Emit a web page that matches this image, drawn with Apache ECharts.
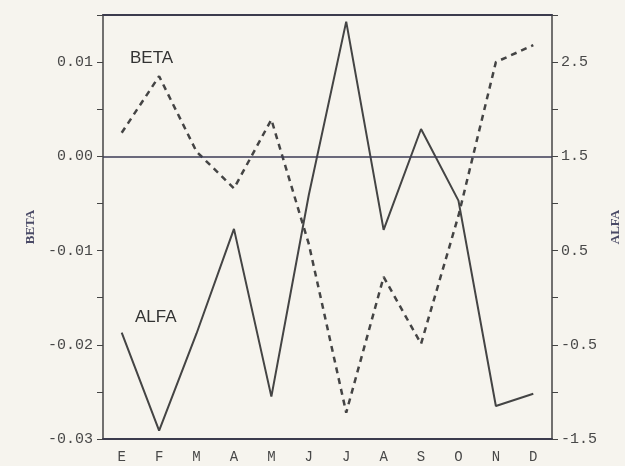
<!DOCTYPE html>
<html>
<head>
<meta charset="utf-8">
<script src="https://cdn.jsdelivr.net/npm/echarts@6/dist/echarts.min.js"></script>
<style>
  html, body { margin: 0; padding: 0; background: #f6f4ee; }
  #chart { width: 625px; height: 466px; }
</style>
</head>
<body>
<div id="chart"></div>
<script>
// months (Spanish initials)
const months = ['E', 'F', 'M', 'A', 'M', 'J', 'J', 'A', 'S', 'O', 'N', 'D'];

// BETA, dashed line, left axis
const beta = [0.0025, 0.0085, 0.0005, -0.0034, 0.0039, -0.0093, -0.0272, -0.0128, -0.0199, -0.0063, 0.0100, 0.0118];

// ALFA, solid line, right axis
const alfa = [-0.37, -1.41, -0.38, 0.73, -1.05, 1.09, 2.93, 0.72, 1.79, 1.03, -1.15, -1.02];

// axis ranges
const betaMin = -0.03, betaMax = 0.015, betaStep = 0.005;
const alfaMin = -1.5, alfaMax = 3.0, alfaStep = 0.5;

const ink = '#444';
const labelFont = {
    color: '#484848',
    fontFamily: 'Liberation Mono',
    fontSize: 15
};
const nameFont = {
    color: '#4a4a66',
    fontFamily: 'Liberation Serif',
    fontSize: 13,
    fontWeight: 'bold'
};

const chart = echarts.init(document.getElementById('chart'));

const option = {
    backgroundColor: '#f6f4ee',
    animation: false,
    grid: {
        left: 103,
        right: 73,
        top: 15,
        bottom: 27,
        containLabel: false,
        outerBoundsMode: 'none'
    },
    xAxis: [
        {
            type: 'category',
            data: months,
            boundaryGap: true,
            axisLine: { onZero: false, lineStyle: { color: '#3b3b4d', width: 2 } },
            axisTick: { alignWithLabel: true, length: 4, lineStyle: { color: ink } },
            axisLabel: Object.assign({}, labelFont, { fontSize: 14, margin: 11 })
        },
        {
            type: 'category',
            data: months,
            position: 'top',
            axisLine: { onZero: false, lineStyle: { color: '#3b3b4d', width: 2 } },
            axisTick: { show: false },
            axisLabel: { show: false }
        }
    ],
    yAxis: [
        {
            type: 'value',
            name: 'BETA',
            nameLocation: 'middle',
            nameRotate: 90,
            nameGap: 64,
            nameTextStyle: nameFont,
            min: betaMin,
            max: betaMax,
            interval: betaStep,
            axisLine: { show: true, lineStyle: { color: ink, width: 1.5 } },
            axisTick: { show: true, length: 6, lineStyle: { color: ink } },
            splitLine: { show: false },
            axisLabel: Object.assign({}, labelFont, {
                margin: 10,
                formatter: v => {
                    const k = v * 100;
                    if (Math.abs(k - Math.round(k)) > 1e-6 || v > 0.0101) return '';
                    return (Math.round(k) / 100).toFixed(2);
                }
            })
        },
        {
            type: 'value',
            name: 'ALFA',
            nameLocation: 'middle',
            nameRotate: 90,
            nameGap: 57,
            nameTextStyle: nameFont,
            position: 'right',
            min: alfaMin,
            max: alfaMax,
            interval: alfaStep,
            axisLine: { show: true, lineStyle: { color: ink, width: 1.5 } },
            axisTick: { show: true, length: 6, lineStyle: { color: ink } },
            splitLine: { show: false },
            axisLabel: Object.assign({}, labelFont, {
                margin: 9,
                formatter: v => {
                    const k = v + 0.5;
                    if (Math.abs(k - Math.round(k)) > 1e-6 || v > 2.6) return '';
                    return v.toFixed(1);
                }
            })
        }
    ],
    graphic: [
        {
            type: 'text',
            left: 130,
            top: 50,
            style: { text: 'BETA', fill: '#333', font: '17px "Liberation Sans"' }
        },
        {
            type: 'text',
            left: 135,
            top: 309,
            style: { text: 'ALFA', fill: '#333', font: '17px "Liberation Sans"' }
        }
    ],
    series: [
        {
            name: 'BETA',
            type: 'line',
            data: beta,
            xAxisIndex: 0,
            yAxisIndex: 0,
            symbol: 'none',
            lineStyle: { color: ink, width: 2.5, type: [6, 5] },
            markLine: {
                silent: true,
                symbol: 'none',
                label: { show: false },
                lineStyle: { color: '#3b3b55', width: 1.5, type: 'solid' },
                data: [{ yAxis: 0 }]
            }
        },
        {
            name: 'ALFA',
            type: 'line',
            data: alfa,
            xAxisIndex: 0,
            yAxisIndex: 1,
            symbol: 'none',
            lineStyle: { color: ink, width: 2 }
        }
    ]
};

chart.setOption(option);
</script>
</body>
</html>
